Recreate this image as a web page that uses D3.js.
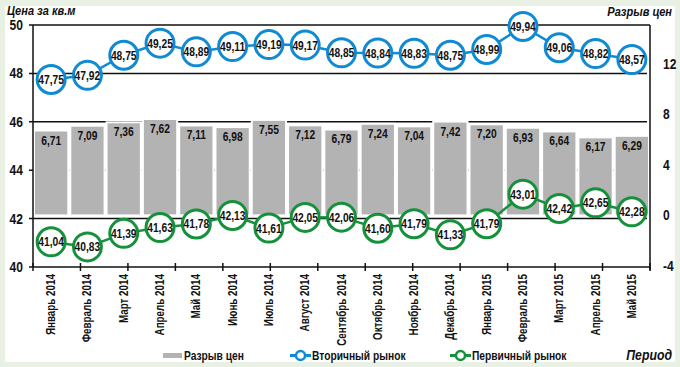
<!DOCTYPE html>
<html><head><meta charset="utf-8">
<script src="https://cdn.jsdelivr.net/npm/d3@7"></script>
<style>
html,body{margin:0;padding:0;background:#e8f1e4;}
svg{display:block;}
text{font-family:'Liberation Sans',Arial,sans-serif;font-weight:bold;fill:#111;}
</style></head>
<body>
<svg id="chart" width="680" height="367"></svg>
<script>
const categories = ["Январь 2014","Февраль 2014","Март 2014","Апрель 2014","Май 2014","Июнь 2014","Июль 2014","Август 2014","Сентябрь 2014","Октябрь 2014","Ноябрь 2014","Декабрь 2014","Январь 2015","Февраль 2015","Март 2015","Апрель 2015","Май 2015"];
const gapValues = [6.71,7.09,7.36,7.62,7.11,6.98,7.55,7.12,6.79,7.24,7.04,7.42,7.20,6.93,6.64,6.17,6.29];
const secondaryValues = [47.75,47.92,48.75,49.25,48.89,49.11,49.19,49.17,48.85,48.84,48.83,48.75,48.99,49.94,49.06,48.82,48.57];
const primaryValues = [41.04,40.83,41.39,41.63,41.78,42.13,41.61,42.05,42.06,41.60,41.79,41.33,41.79,43.01,42.42,42.65,42.28];
const leftTicks = [40,42,44,46,48,50];
const rightTicks = [-4,0,4,8,12];
const seriesNames = ["Разрыв цен","Вторичный рынок","Первичный рынок"];

const blue = "#108bd3", green = "#15913b", grey = "#b3b3b4";
const SX = 0.82; // emulate a narrow font
const svg = d3.select("#chart");
const fmt = v => d3.format(".2f")(v).replace(".", ",");

function txt(parent, x, y, str, size, anchor, opts = {}) {
  const t = parent.append("text")
    .attr("transform", `translate(${x},${y})${opts.rotate ? " rotate(" + opts.rotate + ")" : ""} scale(${opts.sx || SX},1)`)
    .attr("text-anchor", anchor || "start").attr("font-size", size).text(str);
  if (opts.italic) t.attr("font-style", "italic");
  return t;
}

// panel
svg.append("rect").attr("x",5).attr("y",6).attr("width",670).attr("height",356).attr("fill","#fff");

const L = 33, R = 650, T = 25, B = 267;
const x = d3.scaleBand().domain(categories).range([L, R]).paddingInner(0).paddingOuter(0);
const yL = d3.scaleLinear().domain([40,50]).range([B, T]);
const yR = d3.scaleLinear().domain([-4,15.05]).range([B - 1, T]);
const bw = x.bandwidth();
const cx = i => x(categories[i]) + bw/2;

// gridlines
svg.append("g").selectAll("line").data(leftTicks.filter(t => t > 40 && t < 50)).join("line")
  .attr("x1", L - 4).attr("x2", R - 3).attr("y1", d => yL(d)).attr("y2", d => yL(d))
  .attr("stroke","#111").attr("stroke-width",1.5);

// bars
svg.append("g").selectAll("rect").data(gapValues).join("rect")
  .attr("x", (d,i) => x(categories[i]) + 1)
  .attr("width", bw - 2)
  .attr("y", d => yR(d))
  .attr("height", d => yR(0) - yR(d))
  .attr("fill", grey).attr("stroke","#fff").attr("stroke-width",2);
const bl = svg.append("g");
gapValues.forEach((d,i) => txt(bl, cx(i), yR(d) + 14, fmt(d), 12.5, "middle"));

// axes frame
const frame = svg.append("g").attr("stroke","#111").attr("stroke-width",1.5).attr("fill","none");
frame.append("line").attr("x1",L).attr("x2",R).attr("y1",T).attr("y2",T);
frame.append("line").attr("x1",L).attr("x2",L).attr("y1",T).attr("y2",B);
frame.append("line").attr("x1",R).attr("x2",R).attr("y1",T).attr("y2",B+3);
frame.append("line").attr("x1",L - 4).attr("x2",R).attr("y1",B).attr("y2",B);
frame.append("line").attr("x1",L - 4).attr("x2",L).attr("y1",T).attr("y2",T);

// x tick marks (13 intervals as in the original)
const xt = d3.range(14).map(k => L + k * (R - L) / 13);
frame.selectAll("line.xt").data(xt).join("line").attr("class","xt")
  .attr("x1", d => d).attr("x2", d => d).attr("y1", B - 4).attr("y2", B + 4);

// axis labels
const ax = svg.append("g");
leftTicks.forEach(d => txt(ax, 23, yL(d) + 5, d, 14, "end", {sx: 0.86}));
rightTicks.forEach(d => txt(ax, 663, yR(d) + 5, d, 14, "start", {sx: 0.86}));
categories.forEach((d,i) => txt(ax, cx(i) + 4, B + 7, d, 12, "end", {rotate: -90}));

// lines
function series(vals, color) {
  const line = d3.line().x((d,i) => cx(i)).y(d => yL(d));
  svg.append("path").datum(vals).attr("d", line).attr("fill","none")
    .attr("stroke", color).attr("stroke-width", 2.5);
  const g = svg.append("g");
  vals.forEach((d,i) => {
    const c = g.append("g").attr("transform", `translate(${cx(i)},${yL(d)})`);
    c.append("circle").attr("r", 14).attr("fill","#fff").attr("stroke", color).attr("stroke-width", 3);
    txt(c, 0, 4.5, fmt(d), 12.5, "middle");
  });
}
series(secondaryValues, blue);
series(primaryValues, green);

// titles
txt(svg, 7, 15, "Цена за кв.м", 13.5, "start", {italic: true});
txt(svg, 672, 16, seriesNames[0], 13.5, "end", {italic: true});
txt(svg, 672, 360, "Период", 15, "end", {italic: true});

// legend
const lg = svg.append("g");
lg.append("rect").attr("x",163).attr("y",353).attr("width",19).attr("height",5).attr("fill",grey);
txt(lg, 184, 360, seriesNames[0], 12.5, "start");
[[blue, 290, seriesNames[1]], [green, 450, seriesNames[2]]].forEach(([c, lx, name]) => {
  lg.append("line").attr("x1",lx).attr("x2",lx+21).attr("y1",355.5).attr("y2",355.5).attr("stroke",c).attr("stroke-width",3);
  lg.append("circle").attr("cx",lx+10.5).attr("cy",355.5).attr("r",4.5).attr("fill","#fff").attr("stroke",c).attr("stroke-width",2.5);
  txt(lg, lx+22, 360, name, 12.5, "start");
});
</script>
</body></html>
